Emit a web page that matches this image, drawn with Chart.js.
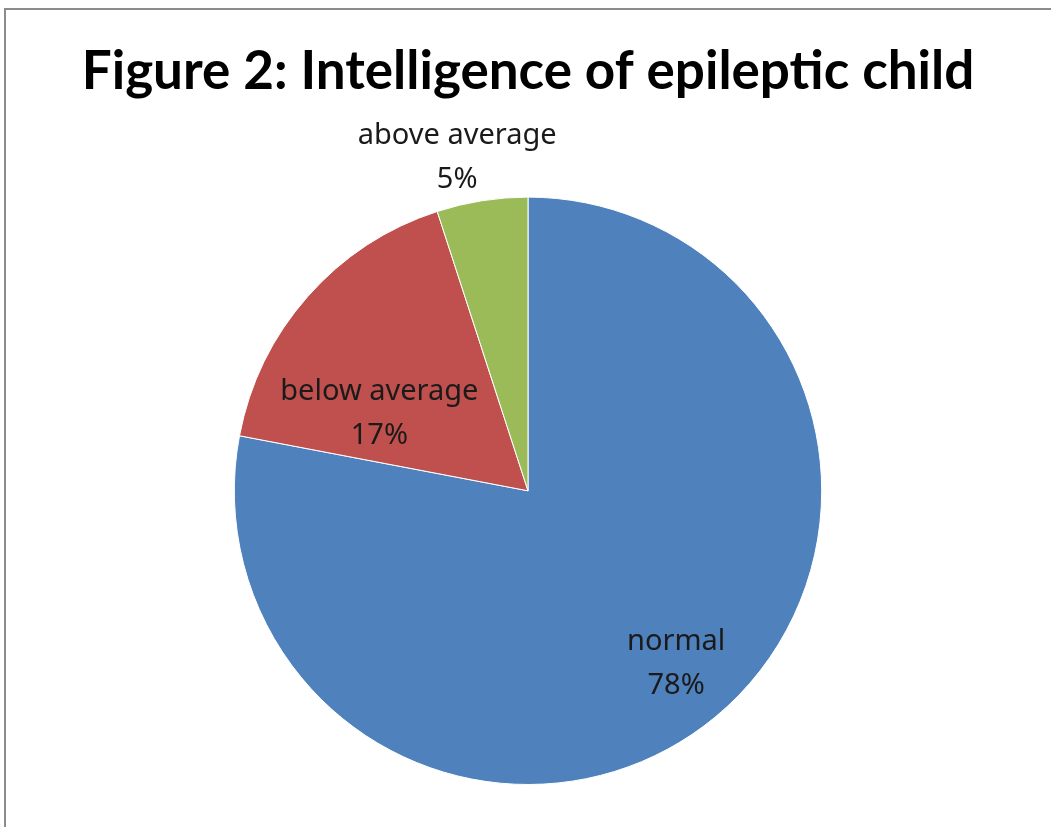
<!DOCTYPE html>
<html>
<head>
<meta charset="utf-8">
<script src="https://cdn.jsdelivr.net/npm/chart.js@4"></script>
<style>
  html, body { margin: 0; padding: 0; background: #fff; overflow: hidden; }
  #frame { position: absolute; left: 4px; top: 8px; width: 1100px; height: 900px; border: 2px solid #8c8c8c; }
  #wrap { position: absolute; left: 0; top: 0; width: 1051px; height: 827px; }
</style>
</head>
<body>
<div id="frame"></div>
<div id="wrap"><canvas id="myChart" width="1051" height="827"></canvas></div>
<script>
// data
const categories = ['normal', 'below average', 'above average'];
const percents = [78, 17, 5];
const colors = ['#4F81BD', '#C0504D', '#9BBB59'];

// where each label sits: fraction of radius, and angle shift in degrees
const labelRadius = [0.775, 0.57, 1.16];
const labelShift = [-1, -14, -3];

const sliceLabels = {
  id: 'sliceLabels',
  afterDatasetsDraw(chart) {
    const ctx = chart.ctx;
    const meta = chart.getDatasetMeta(0);
    ctx.save();
    ctx.font = '29px "Noto Sans", "Open Sans", sans-serif';
    ctx.fillStyle = '#1a1a1a';
    ctx.textAlign = 'center';
    ctx.textBaseline = 'middle';
    meta.data.forEach((arc, i) => {
      const mid = (arc.startAngle + arc.endAngle) / 2 + labelShift[i] * Math.PI / 180;
      const r = arc.outerRadius * labelRadius[i];
      const x = arc.x + Math.cos(mid) * r;
      const y = arc.y + Math.sin(mid) * r;
      ctx.fillText(categories[i], x, y - 22);
      ctx.fillText(percents[i] + '%', x, y + 22);
    });
    ctx.restore();
  }
};

const data = {
  labels: categories,
  datasets: [{
    data: percents,
    backgroundColor: colors,
    borderColor: '#ffffff',
    borderWidth: 1
  }]
};

const config = {
  type: 'pie',
  data,
  options: {
    responsive: false,
    animation: false,
    layout: { padding: { left: 5, right: 0, top: 0, bottom: 42 } },
    plugins: {
      legend: { display: false },
      tooltip: { enabled: false },
      title: {
        display: true,
        text: 'Figure 2: Intelligence of epileptic child',
        color: '#000',
        font: { family: 'Lato, "Open Sans", sans-serif', size: 53, weight: 'bold', lineHeight: 1.2 },
        padding: { top: 40, bottom: 93 }
      }
    }
  },
  plugins: [sliceLabels]
};

const myChart = new Chart(document.getElementById('myChart'), config);
</script>
</body>
</html>
